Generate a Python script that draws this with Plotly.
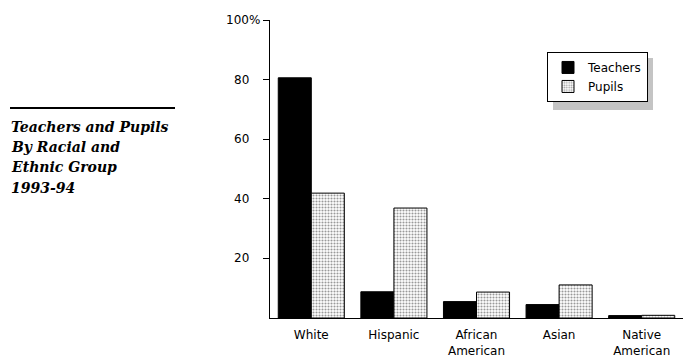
import plotly.graph_objects as go

categories = ["White", "Hispanic", "African<br>American", "Asian", "Native<br>American"]
teachers = [80.6, 8.8, 5.5, 4.5, 0.8]
pupils = [41.9, 36.9, 8.7, 11.1, 0.9]
tick_vals = [20, 40, 60, 80, 100]
tick_text = ["20", "40", "60", "80", "100%"]
title_lines = ["Teachers and Pupils", "By Racial and", "Ethnic Group", "1993-94"]

PL, PB, PW, PH = 270, 318.3, 413, 298.3

def px(x):
    return (x - PL) / PW

def py(y):
    return (PB - y) / PH

fig = go.Figure()
fig.add_trace(go.Bar(
    x=categories, y=teachers, name="Teachers",
    marker=dict(color="black", line=dict(color="black", width=1)),
))
fig.add_trace(go.Bar(
    x=categories, y=pupils, name="Pupils",
    marker=dict(color="white", line=dict(color="black", width=1),
                pattern=dict(shape=".", size=3, solidity=0.4,
                             fgcolor="#333333", bgcolor="white", fillmode="overlay")),
))

# legend shadow
fig.add_shape(type="rect", xref="paper", yref="paper",
              x0=px(553), x1=px(653), y0=py(110), y1=py(58),
              fillcolor="#c4c4c4", line=dict(width=0), layer="above")

# title rule
fig.add_shape(type="line", xref="paper", yref="paper",
              x0=px(10), x1=px(175), y0=py(108), y1=py(108),
              line=dict(color="black", width=2))
for i, line in enumerate(title_lines):
    fig.add_annotation(
        xref="paper", yref="paper",
        x=px(9), y=py(127 + 20.3 * i),
        xanchor="left", yanchor="middle", align="left", showarrow=False,
        text="<b><i>" + line + "</i></b>",
        font=dict(family="DejaVu Serif", size=14, color="black"),
    )

# y tick labels
for v, t in zip(tick_vals, tick_text):
    fig.add_annotation(
        xref="paper", yref="y", x=0, y=v,
        xanchor="right", yanchor="middle", showarrow=False,
        xshift=-8 if t.endswith("%") else -19,
        text=t, font=dict(family="DejaVu Sans", size=12, color="black"),
    )

fig.update_layout(
    width=695, height=363,
    margin=dict(l=270, r=12, t=20, b=45),
    paper_bgcolor="white", plot_bgcolor="white",
    barmode="group", bargap=0.2, bargroupgap=0,
    font=dict(family="DejaVu Sans", size=12, color="black"),
    showlegend=True,
    legend=dict(x=px(547), y=py(52), xanchor="left", yanchor="top",
                bgcolor="white", bordercolor="black", borderwidth=1,
                font=dict(family="DejaVu Sans", size=12),
                itemwidth=30, tracegroupgap=4),
    xaxis=dict(showline=True, linecolor="black", linewidth=1, ticks="",
               showgrid=False, tickfont=dict(size=12), ticklabelstandoff=6,
               automargin=False),
    yaxis=dict(range=[0, 100], showline=True, linecolor="black", linewidth=1,
               ticks="outside", ticklen=6, tickcolor="black",
               tickvals=tick_vals, showticklabels=False, showgrid=False,
               zeroline=False, automargin=False),
)

fig.write_html("out.html", post_script="document.body.style.margin='0';",
               config={"displayModeBar": False})
